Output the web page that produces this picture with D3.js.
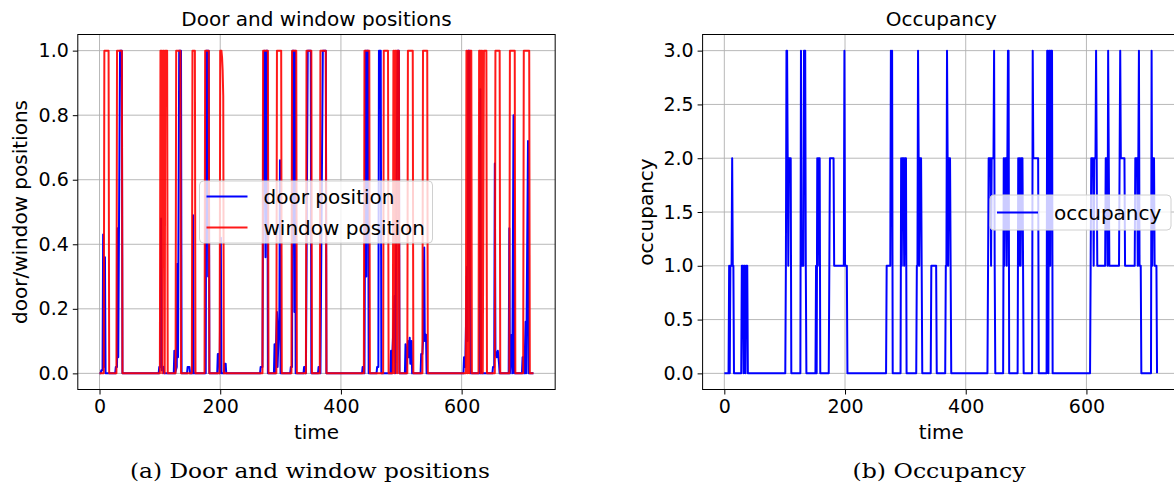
<!DOCTYPE html>
<html><head><meta charset="utf-8">
<script src="https://cdn.jsdelivr.net/npm/d3@7"></script>
<style>
body{margin:0;background:#fff}
svg text{font-family:"DejaVu Sans",sans-serif;fill:#000}
</style>
</head><body>
<svg id="c" width="1174" height="488"></svg>
<script>
// ---- data ----
const timeTicks = [0, 200, 400, 600];
const positionTicks = [0.0, 0.2, 0.4, 0.6, 0.8, 1.0];
const occupancyTicks = [0.0, 0.5, 1.0, 1.5, 2.0, 2.5, 3.0];

// window position: [time, value]
const windowSeries = [
[0,0],[7,0],[8,1],[15,1],[16,0],
[28,0],[29,1],[37,1],[38,0],
[100,0],[101,1],[103,1],[104,0],[105,1],[107,1],[108,0],[109,1],[112,1],[113,0],
[126,0],[127,1],[134,1],[135,0],
[153,0],[154,1],[158,1],[159,0],
[174,0],[175,1],[181,1],[182,0],
[199,0],[200,1],[202,1],[203,0.98],[204,0.94],[205,0.86],[206,0],
[270,0],[271,1],[279,1],[280,0],
[293,0],[294,1],[301,1],[302,0],
[318,0],[319,1],[326,1],[327,0],
[342,0],[343,1],[351,1],[352,0],
[365,0],[366,1],[375,1],[376,0],
[438,0],[439,1],[447,1],[448,0],
[470,0],[471,1],[478,1],[479,0],
[486,0],[487,1],[488,1],[489,0],[490,1],[492,1],[493,0],[494,1],[496,1],[497,0],
[510,0],[511,1],[519,1],[520,0],
[535,0],[536,1],[543,1],[544,0],
[607,0],[608,1],[609,1],[610,0],[611,1],[612,1],[613,0],[614,1],[616,1],[617,0],
[628,0],[629,1],[631,1],[632,0],[633,1],[634,1],[635,0],[637,1],[641,1],[642,0],
[655,0],[656,1],[663,1],[664,0],
[679,0],[680,1],[688,1],[689,0],
[702,0],[703,1],[712,1],[713,0],[719,0]
];

// door position: [time, value]
const doorSeries = [
[0,0],[2,0],[3,0.01],[5,0.01],[6,0.43],[7,0.02],[9,0.36],[10,0],
[26,0],[27,0.02],[29,0.02],[30,0.45],[31,0.05],[33,0.7],[34,1],[37,1],[38,0],
[98,0],[99,0.02],[101,0.02],[102,0.48],[103,0.01],[106,0.02],[107,0],
[123,0],[124,0.07],[125,0],[128,0.02],[129,0.34],[130,0.05],[132,1],[135,1],[136,0],
[145,0],[146,0.02],[149,0.02],[150,0],
[154,0],[155,0.49],[156,0],
[176,0],[177,1],[179,1],[180,0.3],[181,1],[182,0],
[195,0],[196,0.06],[198,0.06],[199,0],[201,0.42],[202,0],[206,0],[207,0.03],[209,0.03],[210,0],
[266,0],[267,0.02],[270,0.02],[271,0.5],[273,1],[275,0.36],[276,1],[278,1],[279,0],
[289,0],[290,0.09],[291,0],[294,0.19],[295,0.02],[298,0.19],[299,0.66],[300,0],
[316,0],[317,0.02],[319,0.02],[320,1],[322,1],[323,0.19],[324,1],[325,0],
[338,0],[339,0.02],[341,0.02],[342,0],[345,1],[350,1],[351,0],
[362,0],[363,0.02],[365,0.02],[366,0],[370,1],[375,1],[376,0],
[435,0],[436,0.02],[438,0.02],[439,0],[441,1],[442,0.3],[443,1],[445,1],[446,0],
[459,0],[460,0.02],[462,0.02],[463,1],[466,1],[467,0],
[482,0],[483,0.07],[484,0],[489,0.24],[490,0],[494,1],[496,1],[497,0],
[506,0],[507,0.09],[508,0],[511,0.1],[512,0.05],[514,0.11],[515,0.03],[517,0.1],[518,0],
[532,0],[533,0.06],[535,0.06],[536,0.1],[538,0.39],[539,0.1],[541,0.12],[542,0],
[603,0],[604,0.05],[606,0.02],[609,0.33],[610,0.1],[611,1],[613,1],[614,0.19],[615,0],
[630,0],[631,0.88],[632,0],
[651,0],[652,0.02],[654,0.02],[655,0.65],[656,0.07],[658,0.05],[660,0.07],[662,0.03],[663,0],
[678,0],[679,0.45],[680,0],[683,0.12],[684,0],[686,0.8],[687,0],
[700,0],[701,0.05],[703,0.05],[704,0],[706,0.16],[707,0],[710,0.72],[711,0],[719,0]
];

// occupancy: [time, value]
const occupancySeries = [
[0,0],[7,0],[8,1],[9,0],[10,1],[12,1],[13,2],[14,1],[15,1],[16,0],
[28,0],[29,1],[31,1],[32,0],[33,1],[34,1],[35,0],[36,1],[38,1],[39,0],
[101,0],[102,1],[103,3],[104,3],[105,2],[106,1],[107,2],[110,2],[111,0],
[126,0],[127,3],[128,1],[131,1],[132,3],[134,3],[135,1],[136,0],
[151,0],[152,1],[153,0],[154,2],[155,1],[156,2],[158,2],[159,0],
[173,0],[174,1],[175,2],[181,2],[182,1],[198,1],[199,3],[200,1],[203,1],[204,0],
[268,0],[269,1],[275,1],[276,3],[277,2],[278,3],[279,0],
[292,0],[293,2],[294,1],[295,2],[297,2],[298,1],[299,2],[301,2],[302,0],
[318,0],[319,1],[320,1],[321,3],[322,2],[323,1],[324,2],[326,2],[327,1],[328,0],
[342,0],[343,1],[351,1],[352,0],
[366,0],[367,1],[368,1],[369,3],[370,2],[371,1],[372,2],[374,2],[375,1],[376,0],
[436,0],[437,1],[438,2],[441,2],[442,1],[443,2],[446,2],[447,3],[448,1],[449,0],
[462,0],[463,2],[464,1],[465,2],[467,2],[468,1],[469,2],[470,3],[471,3],[472,0],
[486,0],[487,2],[488,1],[489,2],[490,2],[491,1],[492,2],[494,2],[495,1],[496,0],
[510,0],[511,3],[512,2],[520,2],[521,0],
[534,0],[535,3],[536,3],[537,0],[538,3],[539,3],[540,1],[541,3],[543,3],[544,0],
[606,0],[607,1],[608,2],[611,2],[612,1],[613,2],[615,2],[616,3],[617,2],[618,1],[631,1],[632,2],[634,2],[635,1],[636,3],[637,2],[638,1],
[654,1],[655,2],[656,3],[657,2],[663,2],[664,1],[680,1],[681,2],[684,2],[685,1],[686,2],[687,3],[688,1],[690,1],[691,0],
[707,0],[708,3],[709,1],[710,2],[712,2],[713,1],[716,1],[717,0]
];

// ---- drawing ----
const svg = d3.select("#c");
const FS = 20, TFS = 19;

function panel(opt){
  const x = d3.scaleLinear().domain([-36, 755]).range([opt.x0, opt.x0 + 791*0.6035]);
  const y = d3.scaleLinear().domain(opt.ydom).range([389.5, 34.5]);
  const g = svg.append("g");
  const [xl, xr] = x.range();
  g.selectAll(".gx").data(timeTicks).enter().append("line")
    .attr("x1", d=>x(d)).attr("x2", d=>x(d)).attr("y1", 34.5).attr("y2", 389.5)
    .attr("stroke", "#b0b0b0").attr("stroke-width", 0.9);
  g.selectAll(".gy").data(opt.yticks).enter().append("line")
    .attr("x1", xl).attr("x2", xr).attr("y1", d=>y(d)).attr("y2", d=>y(d))
    .attr("stroke", "#b0b0b0").attr("stroke-width", 0.9);
  const line = d3.line().x(d=>x(d[0])).y(d=>y(d[1]));
  opt.series.forEach(s=>{
    g.append("path").datum(s.data).attr("d", line).attr("fill","none")
      .attr("stroke", s.color).attr("stroke-width", 2).attr("stroke-opacity", s.op)
      .attr("stroke-linejoin","round");
  });
  g.append("rect").attr("x", xl).attr("y", 34.5).attr("width", xr-xl).attr("height", 389.5-34.5)
    .attr("fill","none").attr("stroke","#000").attr("stroke-width",1);
  const ax = g.append("g").attr("transform","translate(0,389.5)")
    .call(d3.axisBottom(x).tickValues(timeTicks).tickFormat(d3.format("d")).tickSize(5).tickPadding(5));
  const ay = g.append("g").attr("transform",`translate(${xl},0)`)
    .call(d3.axisLeft(y).tickValues(opt.yticks).tickFormat(d3.format(".1f")).tickSize(5).tickPadding(4));
  [ax, ay].forEach(a=>{
    a.select(".domain").remove();
    a.selectAll("line").attr("stroke","#000");
    a.selectAll("text").attr("font-size", TFS).attr("font-family","DejaVu Sans").attr("fill","#000");
  });
  g.append("text").attr("x", (xl+xr)/2).attr("y", 26).attr("text-anchor","middle")
    .attr("font-size", FS).text(opt.title);
  g.append("text").attr("x", (xl+xr)/2).attr("y", 439).attr("text-anchor","middle")
    .attr("font-size", FS).text("time");
  g.append("text").attr("transform", `translate(${opt.ylx},212) rotate(-90)`)
    .attr("text-anchor","middle").attr("dy","0.35em").attr("font-size", FS).text(opt.ylabel);
  const L = opt.legend;
  const lg = g.append("g");
  lg.append("rect").attr("x", L.x).attr("y", L.y).attr("width", L.w).attr("height", L.h)
    .attr("rx", 4).attr("fill", "#fff").attr("fill-opacity", 0.8).attr("stroke", "#d0d0d0");
  L.items.forEach((it, i)=>{
    const yy = L.y + L.first + i*L.step;
    lg.append("line").attr("x1", L.x+7).attr("x2", L.x+48).attr("y1", yy).attr("y2", yy)
      .attr("stroke", it.color).attr("stroke-width", 2).attr("stroke-opacity", it.op);
    lg.append("text").attr("x", L.x+64).attr("y", yy).attr("dy","0.35em")
      .attr("font-size", FS).text(it.label);
  });
  g.append("text").attr("x", opt.cap.x).attr("y", 478).attr("text-anchor","middle")
    .attr("font-size", 21)
    .attr("textLength", opt.cap.len).attr("lengthAdjust","spacingAndGlyphs")
    .style("font-family","'DejaVu Serif',serif").text(opt.cap.text);
}

panel({
  x0: 77.8, ydom: [-0.05, 1.05], yticks: positionTicks,
  title: "Door and window positions", ylabel: "door/window positions", ylx: 20,
  series: [{data: doorSeries, color: "#0000ff", op: 1}, {data: windowSeries, color: "#ff0000", op: 0.9}],
  legend: {x: 199.5, y: 181, w: 233, h: 62, first: 15.5, step: 31,
    items: [{label:"door position", color:"#0000ff", op:1}, {label:"window position", color:"#ff0000", op:0.9}]},
  cap: {x: 310, len: 360, text: "(a) Door and window positions"}
});
panel({
  x0: 702.6, ydom: [-0.15, 3.15], yticks: occupancyTicks,
  title: "Occupancy", ylabel: "occupancy", ylx: 646,
  series: [{data: occupancySeries, color: "#0000ff", op: 1}],
  legend: {x: 990, y: 195, w: 181, h: 35, first: 17.5, step: 31,
    items: [{label:"occupancy", color:"#0000ff", op:1}]},
  cap: {x: 939, len: 173, text: "(b) Occupancy"}
});
</script>
</body></html>
